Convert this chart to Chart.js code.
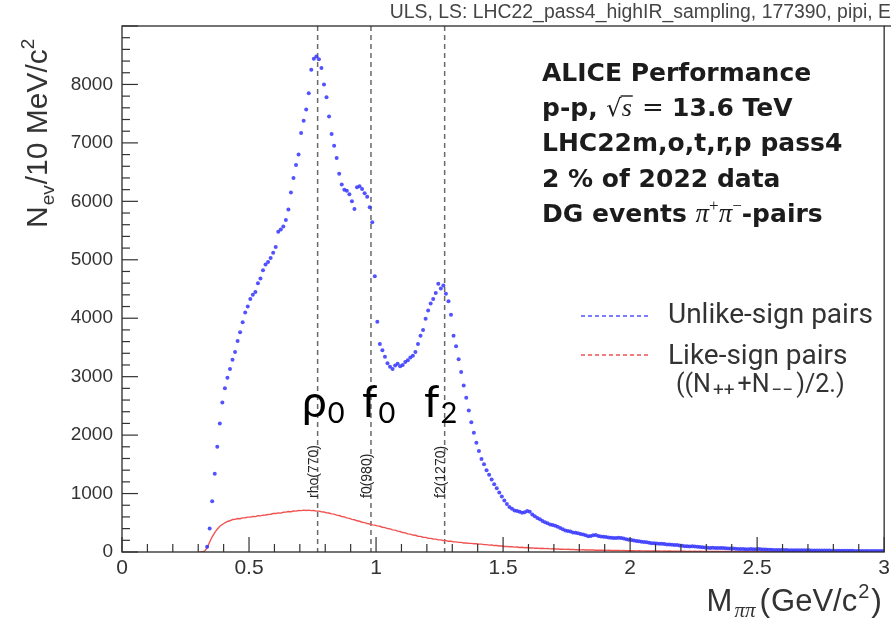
<!DOCTYPE html>
<html>
<head>
<meta charset="utf-8">
<script src="https://cdn.jsdelivr.net/npm/chart.js@4/dist/chart.umd.min.js"></script>
<style>
  html, body { margin: 0; padding: 0; background: #ffffff; }
  #wrap { width: 894px; height: 619px; }
</style>
</head>
<body>
<div id="wrap"><canvas id="mass" width="894" height="619"></canvas></div>
<script>
// Invariant-mass histogram binning (10 MeV bins starting at 0.30 GeV/c^2)
const BIN_START = 0.30;
const BIN_WIDTH = 0.01;

// Unlike-sign pi+pi- pairs, counts per 10 MeV bin
const unlikeSignPairs = [
  null, null, null, 90, 400, 870, 1340, 1800, 2200, 2560,
  2800, 2980, 3130, 3290, 3420, 3610, 3760, 3930, 4100, 4200,
  4330, 4400, 4450, 4600, 4680, 4820, 4920, 4960, 5030, 5120,
  5220, 5480, 5520, 5570, 5680, 5860, 6150, 6400, 6620, 6800,
  7170, 7380, 7570, 7850, 8250, 8440, 8480, 8430, 8280, 8000,
  7780, 7450, 7150, 6950, 6740, 6470, 6290, 6200, 6180, 6120,
  6000, 5870, 6240, 6260, 6210, 6140, 6080, 5900, 5640, 4720,
  3940, 3560, 3450, 3340, 3230, 3170, 3130, 3190, 3220, 3180,
  3200, 3250, 3280, 3330, 3360, 3420, 3560, 3700, 3800, 3990,
  4130, 4250, 4330, 4430, 4590, 4510, 4560, 4420, 4290, 4060,
  3700, 3520, 3300, 3080, 2850, 2640, 2420, 2220, 2040, 1870,
  1730, 1590, 1500, 1400, 1320, 1240, 1160, 1090, 1020, 950,
  880, 820, 770, 740, 710, 700, 690, 670, 680, 700,
  690, 640, 610, 580, 560, 530, 510, 490, 470, 460,
  450, 430, 410, 390, 370, 360, 350, 335, 330, 320,
  310, 300, 285, 270, 275, 285, 290, 275, 265, 260,
  255, 250, 245, 240, 240, 245, 240, 230, 220, 210,
  205, 195, 190, 185, 175, 170, 165, 160, 150, 150,
  145, 140, 140, 135, 130, 130, 125, 120, 120, 110,
  105, 100, 100, 95, 100, 95, 90, 85, 80, 75,
  72, 70, 72, 70, 68, 68, 70, 66, 62, 60,
  58, 55, 52, 50, 50, 48, 48, 50, 48, 46,
  50, 47, 44, 42, 40, 38, 36, 35, 35, 34,
  33, 33, 32, 31, 32, 30, 30, 29, 28, 28,
  28, 27, 27, 26, 26, 25, 25, 24, 24, 23,
  23, 22, 22, 21, 21, 20, 20, 20, 19, 19,
  19, 18, 18, 18, 17, 17, 17, 16, 16, 16
];

// Like-sign pairs, (N++ + N--)/2 per 10 MeV bin
const likeSignPairs = [
  0, 0, 15, 70, 170, 260, 330, 390, 440, 470,
  500, 522, 534, 556, 558, 572, 570, 584, 586, 596,
  596, 608, 606, 620, 618, 630, 634, 642, 646, 658,
  658, 670, 666, 680, 682, 692, 690, 702, 700, 710,
  708, 716, 710, 716, 708, 709, 700, 700, 688, 685,
  670, 667, 652, 648, 631, 624, 608, 600, 583, 576,
  558, 551, 534, 526, 509, 502, 487, 480, 465, 460,
  448, 441, 424, 418, 401, 396, 379, 374, 356, 350,
  333, 328, 311, 306, 290, 286, 270, 267, 252, 250,
  236, 234, 222, 220, 208, 207, 196, 195, 184, 184,
  174, 173, 164, 164, 155, 155, 147, 148, 141, 142,
  134, 134, 126, 127, 118, 119, 110, 111, 102, 103,
  95, 97, 89, 91, 84, 86, 78, 80, 74, 76,
  69, 71, 65, 67, 61, 63, 57, 59, 54, 56,
  51, 52, 48, 49, 45, 46, 42, 44, 39, 41,
  37, 38, 35, 36, 33, 34, 31, 32, 29, 30,
  28, 29, 26, 27, 25, 26, 23, 25, 22, 23,
  21, 22, 20, 21, 19, 20, 18, 19, 17, 18,
  16, 17, 15, 17, 14, 16, 13, 15, 13, 14,
  12, 14, 11, 13, 11, 12, 10, 12, 10, 11,
  9, 11, 9, 10, 8, 10, 8, 9, 7, 9,
  7, 9, 7, 8, 6, 8, 6, 8, 6, 7,
  5, 7, 5, 7, 5, 6, 5, 6, 4, 6,
  4, 6, 4, 5, 4, 5, 4, 5, 3, 5,
  3, 5, 3, 4, 3, 4, 3, 4, 3, 4,
  2, 4, 2, 4, 2, 3, 2, 3, 2, 3,
  2, 3, 2, 3, 2, 3, 2, 2, 2, 2
];

// Axis ticks
const xTickValues = [0, 0.5, 1, 1.5, 2, 2.5, 3];
const xTickLabels = ['0', '0.5', '1', '1.5', '2', '2.5', '3'];
const yTickValues = [0, 1000, 2000, 3000, 4000, 5000, 6000, 7000, 8000];
const yTickLabels = ['0', '1000', '2000', '3000', '4000', '5000', '6000', '7000', '8000'];

// Resonances marked on the spectrum (mass in GeV/c^2)
const resonanceMasses = [0.770, 0.980, 1.270];
const resonanceNames = ['rho(770)', 'f0(980)', 'f2(1270)'];
const resonanceSymbols = ['ρ', 'f', 'f'];
const resonanceSubscripts = ['0', '0', '2'];

const histTitle = 'ULS, LS: LHC22_pass4_highIR_sampling, 177390, pipi, E';
const legendLabels = ['Unlike-sign pairs', 'Like-sign pairs'];

const BLUE = 'rgba(52, 52, 255, 0.85)';
const RED = '#f05252';

function toPoints(values) {
  const pts = [];
  values.forEach((v, i) => {
    if (v === null) return;
    pts.push({ x: +(BIN_START + BIN_WIDTH * (i + 0.5)).toFixed(3), y: v });
  });
  return pts;
}

// Draw a row of differently styled text pieces; returns end x
function drawRuns(ctx, x, y, runs, measureOnly) {
  let cx = x;
  for (const r of runs) {
    ctx.font = r.font;
    const w = ctx.measureText(r.text).width;
    if (!measureOnly) {
      ctx.fillText(r.text, cx, y + (r.dy || 0));
      if (r.overline) {
        ctx.save();
        ctx.lineWidth = 1.4;
        ctx.strokeStyle = ctx.fillStyle;
        ctx.beginPath();
        ctx.moveTo(cx - 1, y - r.overline);
        ctx.lineTo(cx + w + 1, y - r.overline);
        ctx.stroke();
        ctx.restore();
      }
    }
    cx += w + (r.gap || 0);
  }
  return cx;
}

const SANS = '"Liberation Sans", Arial, sans-serif';
const BOLD = 'bold 25px "DejaVu Sans", sans-serif';
const MATH = '"Liberation Serif", "DejaVu Serif", serif';
const LEG = 'Roboto, "Open Sans", sans-serif';

const rootStyle = {
  id: 'rootStyle',
  beforeDatasetsDraw(chart) {
    const { ctx, chartArea: a, scales: { x } } = chart;
    ctx.save();
    ctx.strokeStyle = '#6a6a6a';
    ctx.lineWidth = 1.5;
    ctx.setLineDash([5, 4]);
    resonanceMasses.forEach(m => {
      const px = x.getPixelForValue(m);
      ctx.beginPath();
      ctx.moveTo(px, a.top);
      ctx.lineTo(px, a.bottom);
      ctx.stroke();
    });
    ctx.restore();
  },
  afterDraw(chart) {
    const { ctx, chartArea: a, scales: { x, y } } = chart;
    ctx.save();

    // frame
    ctx.strokeStyle = '#2a2a2a';
    ctx.lineWidth = 1.3;
    ctx.strokeRect(a.left, a.top, a.right - a.left, a.bottom - a.top);
    ctx.beginPath();
    ctx.moveTo(a.right, a.top);
    ctx.lineTo(891, a.top);
    ctx.stroke();

    // tick marks inside the frame
    ctx.lineWidth = 1.2;
    ctx.strokeStyle = '#333';
    for (let i = 0; i <= 30; i++) {
      const px = x.getPixelForValue(i / 10);
      const len = i % 5 === 0 ? 15 : 8;
      ctx.beginPath();
      ctx.moveTo(px, a.bottom);
      ctx.lineTo(px, a.bottom - len);
      ctx.stroke();
    }
    for (let i = 0; i <= 45; i++) {
      const py = y.getPixelForValue(i * 200);
      const len = i % 5 === 0 ? 16 : 8;
      ctx.beginPath();
      ctx.moveTo(a.left, py);
      ctx.lineTo(a.left + len, py);
      ctx.stroke();
    }

    // histogram title
    ctx.fillStyle = '#454545';
    ctx.font = '19.4px ' + SANS;
    ctx.textAlign = 'right';
    ctx.textBaseline = 'alphabetic';
    ctx.fillText(histTitle, 891, 18);
    ctx.textAlign = 'left';

    // axis titles
    ctx.fillStyle = '#333';
    const yRuns = [
      { text: 'N', font: '30px ' + SANS, gap: 1 },
      { text: 'ev', font: '19px ' + SANS, dy: 7, gap: 1 },
      { text: '/10 MeV/c', font: '30px ' + SANS },
      { text: '2', font: '19px ' + SANS, dy: -13 }
    ];
    ctx.save();
    ctx.translate(47, 228);
    ctx.rotate(-Math.PI / 2);
    drawRuns(ctx, 0, 0, yRuns);
    ctx.restore();

    const xRuns = [
      { text: 'M', font: '31px ' + SANS, gap: 2 },
      { text: 'ππ', font: 'italic 21px ' + MATH, dy: 6, gap: 4 },
      { text: '(', font: '32px ' + SANS, gap: 1 },
      { text: 'GeV/c', font: '31px ' + SANS, gap: 1 },
      { text: '2', font: '20px ' + SANS, dy: -13, gap: 2 },
      { text: ')', font: '32px ' + SANS }
    ];
    const xw = drawRuns(ctx, 0, 0, xRuns, true);
    drawRuns(ctx, 882 - xw, 611, xRuns);

    // resonance name tags along the dashed lines
    ctx.fillStyle = '#262626';
    ctx.font = '14px ' + SANS;
    resonanceMasses.forEach((m, i) => {
      const px = x.getPixelForValue(m);
      ctx.save();
      ctx.translate(px, 498);
      ctx.rotate(-Math.PI / 2);
      ctx.fillText(resonanceNames[i], 0, 0);
      ctx.restore();
    });

    // resonance symbols
    ctx.fillStyle = '#000';
    const symFont = '44px Lato, "Noto Sans", sans-serif';
    const subFont = '29px Lato, "Noto Sans", sans-serif';
    const symLeft = [302, 362, 424];
    resonanceSymbols.forEach((s, i) => {
      drawRuns(ctx, symLeft[i], 417, [
        { text: s, font: symFont, gap: 1 },
        { text: resonanceSubscripts[i], font: subFont, dy: 6 }
      ]);
    });

    // info block
    ctx.fillStyle = '#1c1c1c';
    const ix = 542;
    drawRuns(ctx, ix, 81, [{ text: 'ALICE Performance', font: BOLD }]);
    drawRuns(ctx, ix, 116, [
      { text: 'p-p, ', font: BOLD },
      { text: '√', font: '24px "DejaVu Serif", serif' },
      { text: 's', font: 'italic 26px ' + MATH, overline: 20, gap: 2 },
      { text: ' = ', font: '26px "DejaVu Serif", serif' },
      { text: '13.6 TeV', font: BOLD }
    ]);
    drawRuns(ctx, ix, 151, [{ text: 'LHC22m,o,t,r,p pass4', font: BOLD }]);
    drawRuns(ctx, ix, 187, [{ text: '2 % of 2022 data', font: BOLD }]);
    drawRuns(ctx, ix, 222, [
      { text: 'DG events ', font: BOLD },
      { text: 'π', font: 'italic 27px ' + MATH },
      { text: '+', font: '17px ' + MATH, dy: -11 },
      { text: 'π', font: 'italic 27px ' + MATH },
      { text: '−', font: '17px ' + MATH, dy: -11 },
      { text: '-pairs', font: BOLD }
    ]);

    // legend
    ctx.lineWidth = 1.6;
    ctx.setLineDash([4, 3]);
    [[BLUE, 316], [RED, 355]].forEach(([c, ly]) => {
      ctx.strokeStyle = c;
      ctx.beginPath();
      ctx.moveTo(581, ly);
      ctx.lineTo(651, ly);
      ctx.stroke();
    });
    ctx.setLineDash([]);
    ctx.fillStyle = '#333';
    drawRuns(ctx, 668, 323, [{ text: legendLabels[0], font: '28px ' + LEG }]);
    drawRuns(ctx, 668, 364, [{ text: legendLabels[1], font: '28px ' + LEG }]);
    drawRuns(ctx, 676, 392, [
      { text: '((N', font: '25px ' + LEG, gap: 2 },
      { text: '++', font: '19px ' + LEG, dy: 4, gap: 3 },
      { text: '+N', font: '25px ' + LEG, gap: 2 },
      { text: '−−', font: '19px ' + LEG, dy: 4, gap: 3 },
      { text: ')/2.)', font: '25px ' + LEG }
    ]);

    ctx.restore();
  }
};

new Chart(document.getElementById('mass'), {
  type: 'scatter',
  data: {
    datasets: [
      {
        label: legendLabels[0],
        data: toPoints(unlikeSignPairs),
        showLine: false,
        pointRadius: 2,
        pointStyle: 'circle',
        backgroundColor: BLUE,
        borderWidth: 0
      },
      {
        label: legendLabels[1],
        data: toPoints(likeSignPairs),
        showLine: true,
        borderColor: RED,
        borderWidth: 1.4,
        pointRadius: 0,
        tension: 0
      }
    ]
  },
  options: {
    responsive: false,
    animation: false,
    devicePixelRatio: 1,
    layout: { padding: { top: 26, right: 9, left: 0, bottom: 0 } },
    plugins: {
      legend: { display: false },
      tooltip: { enabled: false },
      title: { display: false }
    },
    scales: {
      x: {
        type: 'linear',
        min: 0,
        max: 3,
        grid: { display: false, drawTicks: false },
        border: { display: false },
        afterBuildTicks: s => { s.ticks = xTickValues.map(v => ({ value: v })); },
        ticks: {
          autoSkip: false,
          maxRotation: 0,
          padding: 4,
          color: '#333',
          font: { family: SANS, size: 21 },
          callback: (v, i) => xTickLabels[i]
        },
        afterFit: s => { s.height = 67; }
      },
      y: {
        type: 'linear',
        min: 0,
        max: 9000,
        grid: { display: false, drawTicks: false },
        border: { display: false },
        afterBuildTicks: s => { s.ticks = yTickValues.map(v => ({ value: v })); },
        ticks: {
          autoSkip: false,
          padding: 9,
          color: '#333',
          font: { family: SANS, size: 19 },
          callback: (v, i) => yTickLabels[i]
        },
        afterFit: s => { s.width = 122; }
      }
    }
  },
  plugins: [rootStyle]
});
</script>
</body>
</html>
